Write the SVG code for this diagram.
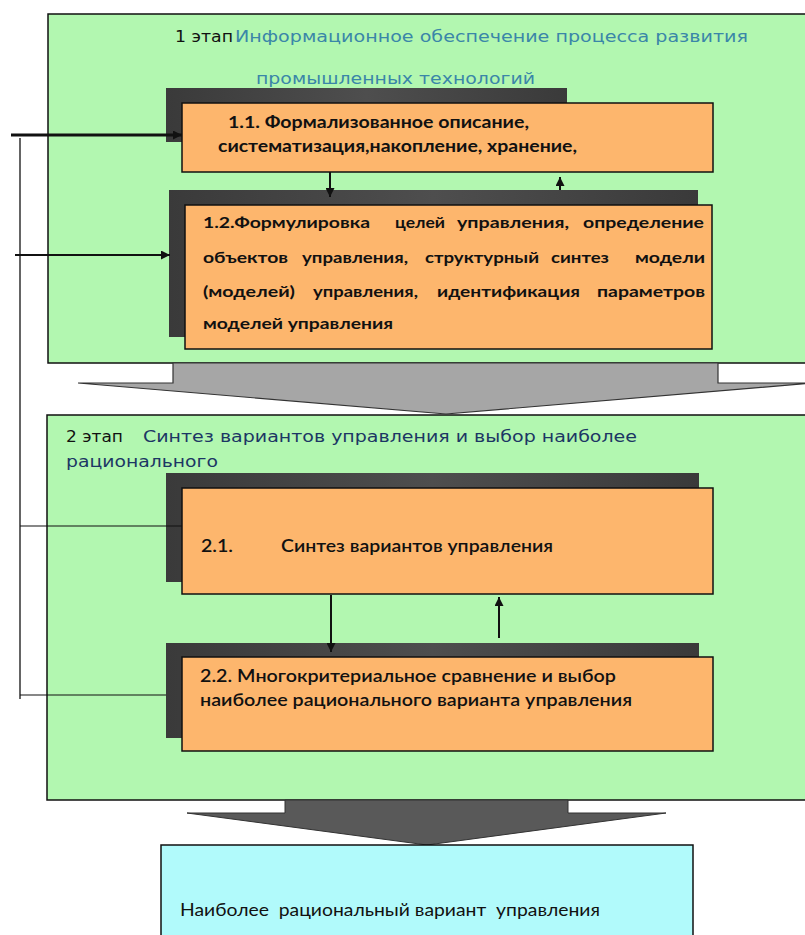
<svg xmlns="http://www.w3.org/2000/svg" width="805" height="935" viewBox="0 0 805 935">
<style>
.stage{fill:#b2f7b0;stroke:#111;stroke-width:1.5}
.box{fill:#fdb66d;stroke:#111;stroke-width:1.5}
.res{fill:#b1fafb;stroke:#111;stroke-width:1.5}
.shadow{fill:url(#sh)}
.ttl{font-family:"DejaVu Sans",Verdana,sans-serif;font-size:15.5px}
.t1{font-family:Lato,"Open Sans",sans-serif;font-weight:bold;font-size:17px;fill:#111}
.t2{font-family:Lato,"Open Sans",sans-serif;font-weight:bold;font-size:16px;fill:#111}
.t3{font-family:Lato,"Open Sans",sans-serif;font-weight:600;font-size:16.5px;fill:#111}
.t4{font-family:Lato,"Open Sans",sans-serif;font-size:17px;fill:#111;white-space:pre}
.ln{fill:none;stroke:#111}
</style>
<defs>
<linearGradient id="sh" x1="0" y1="0" x2="1" y2="0">
<stop offset="0" stop-color="#3a3a3a"/>
<stop offset="0.5" stop-color="#4e4e4e"/>
<stop offset="1" stop-color="#3a3a3a"/>
</linearGradient>
<marker id="ah" viewBox="0 0 10 10" refX="10" refY="5" markerWidth="9" markerHeight="9" markerUnits="userSpaceOnUse" orient="auto">
<path d="M0,0 L10,5 L0,10 z" fill="#111"/>
</marker>
</defs>

<g id="stage1">
<rect class="stage" x="48" y="14" width="770" height="349"/>
<text class="ttl" x="175" y="42" fill="#111" textLength="58" lengthAdjust="spacingAndGlyphs">1 этап</text>
<text class="ttl" x="235" y="42" fill="#3a86a8" textLength="513" lengthAdjust="spacingAndGlyphs">Информационное обеспечение процесса развития</text>
<text class="ttl" x="256" y="84" fill="#3a86a8" textLength="279" lengthAdjust="spacingAndGlyphs">промышленных технологий</text>
</g>

<g id="stage2">
<rect class="stage" x="47" y="415" width="770" height="385"/>
<text class="ttl" x="66" y="442" fill="#111" textLength="57" lengthAdjust="spacingAndGlyphs">2 этап</text>
<text class="ttl" x="143" y="442" fill="#1c3664" textLength="494" lengthAdjust="spacingAndGlyphs">Синтез вариантов управления и выбор наиболее</text>
<text class="ttl" x="66" y="467" fill="#1c3664" textLength="152" lengthAdjust="spacingAndGlyphs">рационального</text>
</g>

<g id="flow-arrows">
<polygon points="173,363 718,363 718,383 813,383 446,414 78,383 173,383" fill="#a6a6a6" stroke="#333" stroke-width="1.2"/>
<polygon points="285,800 568,800 568,813 666,813 427,845 187,813 285,813" fill="#595959" stroke="#333" stroke-width="1"/>
</g>

<g id="n11">
<rect class="shadow" x="166" y="88" width="401" height="54"/>
<rect class="box" x="182" y="103" width="531" height="69"/>
<text class="t1" x="228" y="128" textLength="301" lengthAdjust="spacingAndGlyphs">1.1. Формализованное описание,</text>
<text class="t1" x="218" y="152" textLength="359" lengthAdjust="spacingAndGlyphs">систематизация,накопление, хранение,</text>
</g>

<g id="n12">
<rect class="shadow" x="169" y="190" width="529" height="147"/>
<rect class="box" x="185" y="205" width="527" height="144"/>
<g class="t2">
<text x="203" y="228" textLength="167" lengthAdjust="spacingAndGlyphs">1.2.Формулировка</text>
<text x="395" y="228" textLength="50" lengthAdjust="spacingAndGlyphs">целей</text>
<text x="457" y="228" textLength="112" lengthAdjust="spacingAndGlyphs">управления,</text>
<text x="583" y="228" textLength="121" lengthAdjust="spacingAndGlyphs">определение</text>
<text x="203" y="263" textLength="85" lengthAdjust="spacingAndGlyphs">объектов</text>
<text x="302" y="263" textLength="106" lengthAdjust="spacingAndGlyphs">управления,</text>
<text x="425" y="263" textLength="114" lengthAdjust="spacingAndGlyphs">структурный</text>
<text x="551" y="263" textLength="58" lengthAdjust="spacingAndGlyphs">синтез</text>
<text x="635" y="263" textLength="70" lengthAdjust="spacingAndGlyphs">модели</text>
<text x="203" y="297" textLength="92" lengthAdjust="spacingAndGlyphs">(моделей)</text>
<text x="313" y="297" textLength="105" lengthAdjust="spacingAndGlyphs">управления,</text>
<text x="437" y="297" textLength="143" lengthAdjust="spacingAndGlyphs">идентификация</text>
<text x="597" y="297" textLength="108" lengthAdjust="spacingAndGlyphs">параметров</text>
<text x="203" y="329" textLength="190" lengthAdjust="spacingAndGlyphs">моделей управления</text>
</g>
</g>

<g id="n21">
<rect class="shadow" x="166" y="473" width="533" height="109"/>
<rect class="box" x="182" y="488" width="531" height="106"/>
<text class="t3" x="201" y="552" textLength="32" lengthAdjust="spacingAndGlyphs">2.1.</text>
<text class="t3" x="281" y="552" textLength="272" lengthAdjust="spacingAndGlyphs">Синтез вариантов управления</text>
</g>

<g id="n22">
<rect class="shadow" x="166" y="643" width="533" height="95"/>
<rect class="box" x="182" y="657" width="531" height="94"/>
<text class="t3" x="200" y="682" textLength="416" lengthAdjust="spacingAndGlyphs">2.2. Многокритериальное сравнение и выбор</text>
<text class="t3" x="200" y="706" textLength="432" lengthAdjust="spacingAndGlyphs">наиболее рационального варианта управления</text>
</g>

<g id="result">
<rect class="res" x="161" y="845" width="532" height="100"/>
<text class="t4" x="180" y="916" textLength="420" lengthAdjust="spacingAndGlyphs" xml:space="preserve">Наиболее  рациональный вариант  управления</text>
</g>

<g id="connectors">
<line class="ln" x1="11" y1="135" x2="182" y2="135" stroke-width="3" marker-end="url(#ah)"/>
<line class="ln" x1="20" y1="138" x2="20" y2="699" stroke-width="1.3"/>
<line class="ln" x1="15" y1="255" x2="170" y2="255" stroke-width="2" marker-end="url(#ah)"/>
<line class="ln" x1="20" y1="526" x2="182" y2="526" stroke-width="1.2"/>
<line class="ln" x1="20" y1="695" x2="166" y2="695" stroke-width="1.2"/>
<line class="ln" x1="330" y1="172" x2="330" y2="197" stroke-width="2" marker-end="url(#ah)"/>
<line class="ln" x1="560" y1="190" x2="560" y2="177" stroke-width="2" marker-end="url(#ah)"/>
<line class="ln" x1="331" y1="595" x2="331" y2="652" stroke-width="2" marker-end="url(#ah)"/>
<line class="ln" x1="499" y1="638" x2="499" y2="597" stroke-width="2" marker-end="url(#ah)"/>
</g>
</svg>
